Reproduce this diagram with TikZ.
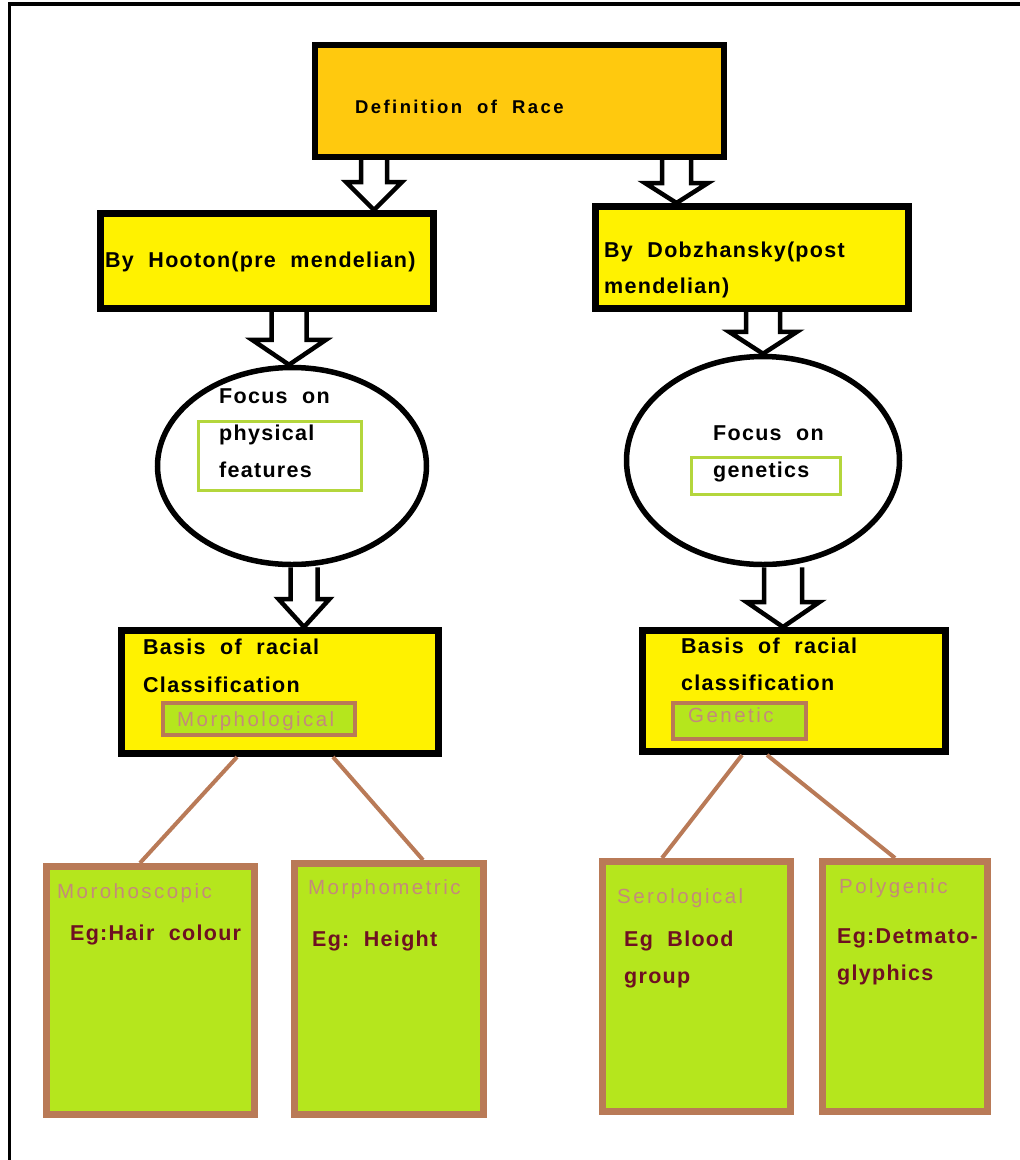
\documentclass[tikz,border=0pt]{standalone}
\usepackage{fontspec}
\setmainfont{Liberation Sans}
\newfontfamily\spaced[LetterSpace=6]{Liberation Sans}
\newfontfamily\widespaced[LetterSpace=13]{Liberation Sans}
\newfontfamily\tagspaced[LetterSpace=12]{Liberation Sans}
\usetikzlibrary{calc,shapes.geometric}
\definecolor{gold}{HTML}{FFC90E}
\definecolor{lemon}{HTML}{FFF200}
\definecolor{lime}{HTML}{B5E61D}
\definecolor{clay}{HTML}{B97A57}
\definecolor{leaf}{HTML}{B4D63C}
\definecolor{blush}{HTML}{C48A7A}
\definecolor{maroon}{HTML}{6E1022}

% hollow block arrow: source, target, tip x, shaft half width, head half width, head length
\newcommand\hollowdown[6]{%
  \draw[hollow] let \p1=(#1.south), \p2=(#2.north) in
    ({#3-#4},\y1) -- ({#3-#4},{\y2+#6}) -- ({#3-#5},{\y2+#6}) -- (#3,\y2)
    -- ({#3+#5},{\y2+#6}) -- ({#3+#4},{\y2+#6}) -- ({#3+#4},\y1);}

\begin{document}
\begin{tikzpicture}[x=1pt,y=-1pt,
  hollow/.style={draw=black,fill=white,line width=4.5pt,line join=miter},
  mainbox/.style={draw=black,line width=7pt,fill=lemon,inner sep=0pt},
  focus/.style={draw=black,line width=5.5pt,fill=white,ellipse,inner sep=0pt},
  framebox/.style={draw=leaf,line width=3pt,inner sep=0pt},
  tagbox/.style={draw=clay,line width=4pt,fill=lime,inner sep=0pt},
  leafbox/.style={draw=clay,line width=7pt,fill=lime,inner sep=0pt},
  link/.style={draw=clay,line width=4pt},
  txt/.style={anchor=base west,inner sep=0pt,font=\spaced\bfseries\fontsize{21.5}{26}\selectfont},
  tagtxt/.style={anchor=base west,inner sep=0pt,text=blush,font=\tagspaced\fontsize{20.5}{25}\selectfont},
  egtxt/.style={txt,text=maroon},
]
\useasboundingbox (0,0) rectangle (1020,1160);
\fill[white] (0,0) rectangle (1020,1160);

% outer frame
\draw[line width=4pt] (8,4) -- (1020,4);
\draw[line width=3pt] (9.5,2) -- (9.5,1160);

% main boxes
\node[mainbox,fill=gold,line width=6pt,minimum width=409pt,minimum height=112pt] (def) at (519.5,101) {};
\node[mainbox,minimum width=333pt,minimum height=95pt] (hoo) at (267,261) {};
\node[mainbox,minimum width=313pt,minimum height=102pt] (dob) at (752,257.5) {};

% focus ellipses
\node[focus,minimum width=269pt,minimum height=197pt] (fl) at (292,466) {};
\node[focus,minimum width=273pt,minimum height=208pt] (fr) at (763,460.5) {};
\node[framebox,minimum width=163pt,minimum height=69pt] (fbl) at (280,456) {};
\node[framebox,minimum width=149pt,minimum height=37pt] (fbr) at (766,476) {};

% classification boxes
\node[mainbox,minimum width=317pt,minimum height=123pt] (bl) at (280,692) {};
\node[mainbox,minimum width=303pt,minimum height=121pt] (br) at (794,691) {};
\node[tagbox,minimum width=192pt,minimum height=32pt] (tl) at (259,719) {};
\node[tagbox,minimum width=133pt,minimum height=36pt] (tr) at (739.5,721) {};

% leaf boxes
\node[leafbox,minimum width=208pt,minimum height=248pt] (b1) at (150.5,990.5) {};
\node[leafbox,minimum width=189pt,minimum height=251pt] (b2) at (389,989) {};
\node[leafbox,minimum width=188pt,minimum height=250pt] (b3) at (696.5,986.5) {};
\node[leafbox,minimum width=165pt,minimum height=250pt] (b4) at (905,986.5) {};

% block arrows
\hollowdown{def}{hoo}{374}{13}{28}{28}
\hollowdown{def}{dob}{676.5}{14.5}{31.5}{20}
\hollowdown{hoo}{fl}{289}{17.5}{37}{25}
\hollowdown{dob}{fr}{763}{17}{34}{22}
\hollowdown{fl}{bl}{304}{13.5}{25.5}{28}
\hollowdown{fr}{br}{783}{19}{36.5}{25}

% brown links
\draw[link] ([xshift=-43pt]bl.south) -- ([xshift=-10.5pt]b1.north);
\draw[link] ([xshift=53pt]bl.south) -- ([xshift=34pt]b2.north);
\draw[link] ([xshift=-52pt]br.south) -- ([xshift=-34.5pt]b3.north);
\draw[link] ([xshift=-27pt]br.south) -- ([xshift=-10pt]b4.north);

% texts
\node[txt,font=\widespaced\bfseries\fontsize{18.5}{22}\selectfont] (t0) at (355,113) {Definition\ \ of\ \ Race};
\node[txt] (t1) at (105,267) {By\ \ Hooton(pre\ \ mendelian)};
\node[txt] (t2) at (604,257) {By\ \ Dobzhansky(post};
\node[txt] (t3) at (604,293) {mendelian)};
\node[txt] (t4) at (219,403) {Focus\ \ on};
\node[txt] (t5) at (219,440) {physical};
\node[txt] (t6) at (219,477) {features};
\node[txt] (t7) at (713,440) {Focus\ \ on};
\node[txt] (t8) at (713,477) {genetics};
\node[txt] (t9) at (143,654) {Basis\ \ of\ \ racial};
\node[txt] (t10) at (143,692) {Classification};
\node[txt] (t11) at (681,653) {Basis\ \ of\ \ racial};
\node[txt] (t12) at (681,690) {classification};
\node[tagtxt] (t13) at (177,726) {Morphological};
\node[tagtxt] (t14) at (688,722) {Genetic};
\node[tagtxt] (t15) at (57,898) {Morohoscopic};
\node[egtxt] (t16) at (70,940) {Eg:Hair\ \ colour};
\node[tagtxt] (t17) at (308,894) {Morphometric};
\node[egtxt] (t18) at (312,946) {Eg:\ \ Height};
\node[tagtxt] (t19) at (617,903) {Serological};
\node[egtxt] (t20) at (624,946) {Eg\ \ Blood};
\node[egtxt] (t21) at (624,983) {group};
\node[tagtxt] (t22) at (839,893) {Polygenic};
\node[egtxt] (t23) at (837,943) {Eg:Detmato-};
\node[egtxt] (t24) at (837,980) {glyphics};
\end{tikzpicture}
\end{document}
